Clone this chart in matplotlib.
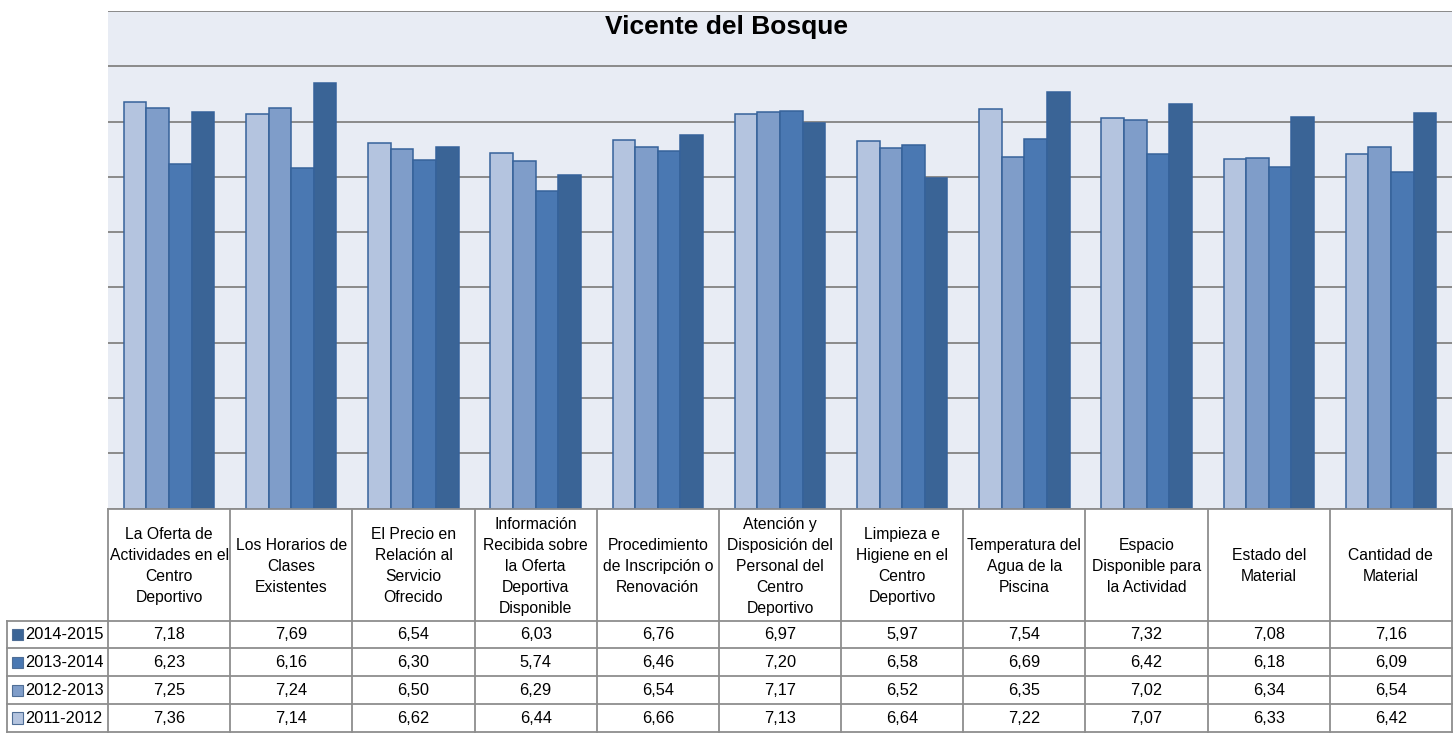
import matplotlib.pyplot as plt
import numpy as np
from matplotlib.patches import Rectangle

categories = [
    "La Oferta de\nActividades en el\nCentro\nDeportivo",
    "Los Horarios de\nClases\nExistentes",
    "El Precio en\nRelación al\nServicio\nOfrecido",
    "Información\nRecibida sobre\nla Oferta\nDeportiva\nDisponible",
    "Procedimiento\nde Inscripción o\nRenovación",
    "Atención y\nDisposición del\nPersonal del\nCentro\nDeportivo",
    "Limpieza e\nHigiene en el\nCentro\nDeportivo",
    "Temperatura del\nAgua de la\nPiscina",
    "Espacio\nDisponible para\nla Actividad",
    "Estado del\nMaterial",
    "Cantidad de\nMaterial",
]

seasons = ["2011-2012", "2012-2013", "2013-2014", "2014-2015"]
v_2011_2012 = [7.36, 7.14, 6.62, 6.44, 6.66, 7.13, 6.64, 7.22, 7.07, 6.33, 6.42]
v_2012_2013 = [7.25, 7.24, 6.50, 6.29, 6.54, 7.17, 6.52, 6.35, 7.02, 6.34, 6.54]
v_2013_2014 = [6.23, 6.16, 6.30, 5.74, 6.46, 7.20, 6.58, 6.69, 6.42, 6.18, 6.09]
v_2014_2015 = [7.18, 7.69, 6.54, 6.03, 6.76, 6.97, 5.97, 7.54, 7.32, 7.08, 7.16]
series = [v_2011_2012, v_2012_2013, v_2013_2014, v_2014_2015]
colors = ["#B4C4DF", "#7F9DC9", "#4A78B2", "#3A6496"]

W, H = 1453, 734
fig = plt.figure(figsize=(W / 100, H / 100), dpi=100)
plt.rcParams["font.family"] = ["Liberation Sans", "DejaVu Sans"]

# bar area
ax = fig.add_axes([108 / W, (H - 508.5) / H, 1344 / W, 497.5 / H])
ax.set_facecolor("#E8ECF4")
n = len(categories)
x = np.arange(n) + 0.5
bw = 0.185
for i, (vals, c) in enumerate(zip(series, colors)):
    ax.bar(x + (i - 1.5) * bw, vals, width=bw, color=c, edgecolor="#36629A",
           linewidth=1.1, zorder=3)
ax.set_xlim(0, n)
ax.set_ylim(0, 9)
ax.set_yticks(np.arange(0, 10, 1))
ax.yaxis.grid(True, color="#8A8A8A", linewidth=1.4, zorder=1)
ax.set_xticks([])
ax.tick_params(left=False, labelleft=False)
for s in ax.spines.values():
    s.set_visible(False)

fig.text(0.5, (H - 27) / H, "Vicente del Bosque", ha="center", va="center",
         fontsize=19, fontweight="bold")

# data table
tax = fig.add_axes([7 / W, (H - 732) / H, 1445 / W, 223 / H])
tax.set_xlim(-101 / 122.18, n)
tax.set_ylim(8, 0)
tax.axis("off")
lc = "#8E8E8E"
lw = 1.3
for k in range(n + 1):
    tax.plot([k, k], [0, 8], color=lc, lw=lw, clip_on=False)
tax.plot([0, n], [0, 0], color=lc, lw=lw, clip_on=False)
left = -101 / 122.18
for r in range(4, 9):
    tax.plot([left, n], [r, r], color=lc, lw=lw, clip_on=False)
tax.plot([left, left], [4, 8], color=lc, lw=lw, clip_on=False)

for k, cat in enumerate(categories):
    tax.text(k + 0.5, 2.05, cat, ha="center", va="center", fontsize=11.3,
             linespacing=1.5)

rows = list(reversed(range(4)))  # 2014-2015 first
for j, si in enumerate(rows):
    yc = 4.5 + j
    tax.add_patch(Rectangle((left + 5 / 122.18, yc - 0.2), 11 / 122.18, 0.4,
                            facecolor=colors[si], edgecolor="#4F6E96", lw=0.8,
                            clip_on=False))
    tax.text(left + 18 / 122.18, yc, seasons[si], ha="left", va="center",
             fontsize=11.8)
    for k, v in enumerate(series[si]):
        tax.text(k + 0.5, yc, f"{v:.2f}".replace(".", ","), ha="center",
                 va="center", fontsize=11.8)

fig.savefig("out.png", dpi=100)
